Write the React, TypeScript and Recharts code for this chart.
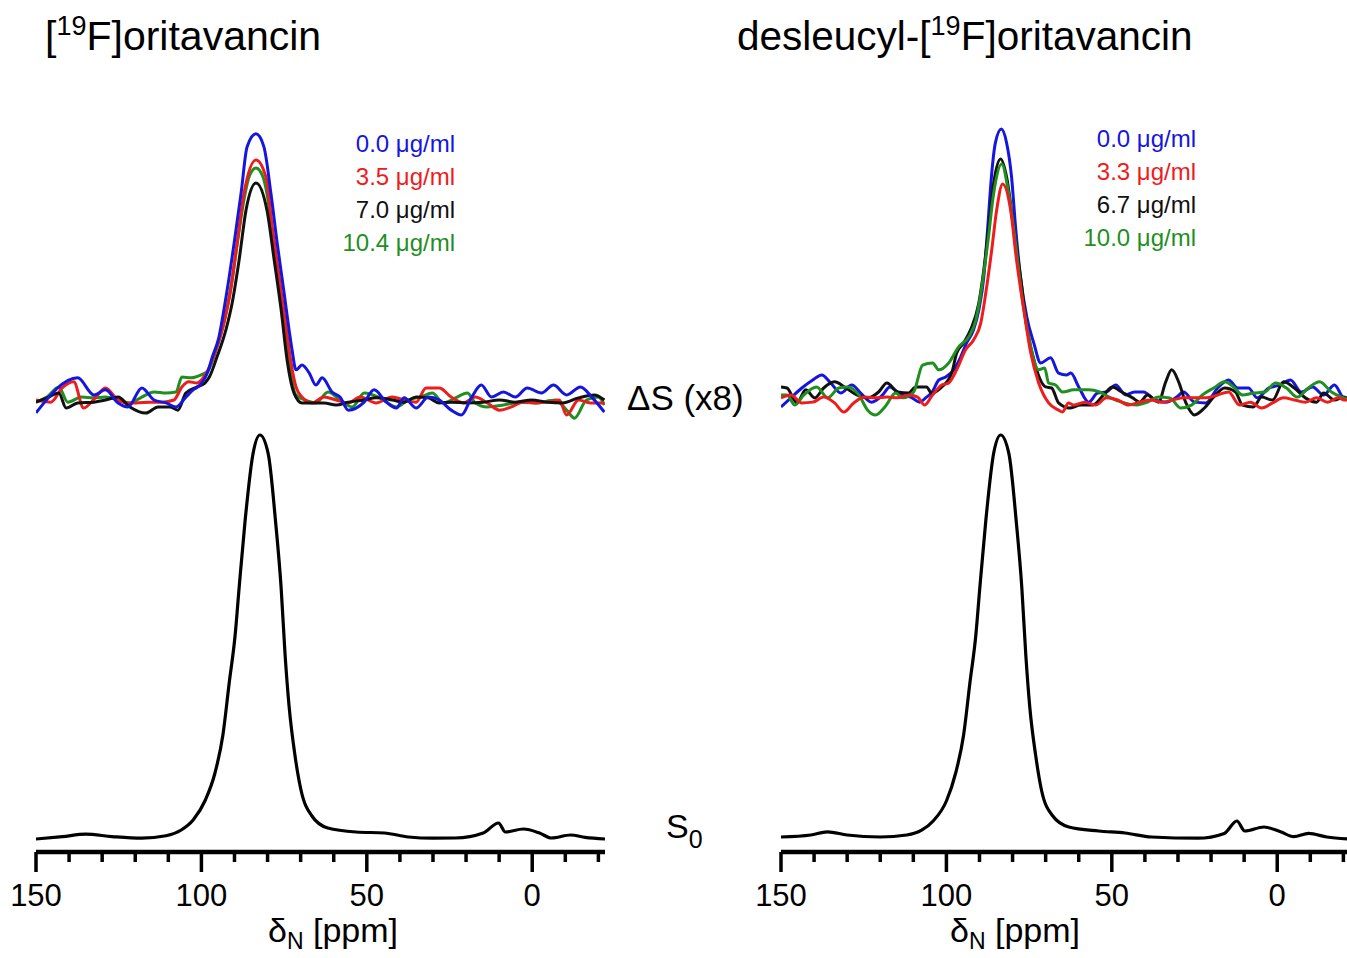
import React from "react";
import { LineChart, Line, XAxis, YAxis } from "recharts";

type Pt = [number, number];

const FONT = "'Liberation Sans', Arial, Helvetica, sans-serif";

// x axis (chemical shift, ppm), reversed
const ppmDomain: [number, number] = [-22, 150];
const ppmTicks = [150, 140, 130, 120, 110, 100, 90, 80, 70, 60, 50, 40, 30, 20, 10, 0, -10, -20];

const seriesColors = ["#1515e0", "#ee1c1c", "#111111", "#1f8f1f"];

// ---- [19F]oritavancin ----
const oritavancinConcs = ["0.0", "3.5", "7.0", "10.4"];

const oritavancinS0: Pt[] = [
  [150, -0.01], [142, -0.004], [135, 0.002], [127, -0.004], [118, -0.008], [110.7, -0.002],
  [106.1, 0.0125], [102.5, 0.0375], [98.8, 0.0875], [95.9, 0.155], [93.5, 0.25], [91.6, 0.38],
  [89.8, 0.5], [88.6, 0.618], [86.8, 0.785], [84.4, 0.953], [82.3, 1.0], [79.8, 0.953],
  [77.6, 0.785], [75.9, 0.618], [74.7, 0.45], [73.5, 0.322], [71.7, 0.198], [69.9, 0.1125],
  [66.6, 0.0475], [61.8, 0.0175], [53.2, 0.0075], [44.7, 0.005], [37.4, -0.005], [30, -0.008],
  [23.2, -0.0075], [14.8, 0.005], [10.2, 0.03], [8.1, 0.0075], [2.7, 0.015], [-2.2, 0.005],
  [-5.8, -0.0075], [-11.6, 0.0], [-16, -0.006], [-22, -0.01],
];

const oritavancin0_0: Pt[] = [
  [150, -4.8], [137.4, 8.3], [132.5, 1.9], [129.0, 3.8], [125.2, -1.1], [122.2, -2.6], [118.0, 4.5],
  [114.3, 0], [110.7, -1.1], [107.7, -2.6], [104.7, 1.1], [102.5, 3.8], [100.4, 5.6], [98.2, 10.1],
  [96.7, 16.1], [94.7, 23.6], [93.2, 33.8], [91.6, 46.1], [90.1, 58.9], [88.0, 77.6], [86.2, 94.9],
  [83.5, 99.8], [81.1, 94.9], [79.0, 77.6], [77.1, 58.9], [75.0, 40.1], [73.5, 26.3], [72.6, 18.8],
  [71.4, 11.3], [69.6, 13.1], [67.4, 10.1], [65.4, 5.6], [63.5, 8.3], [60.5, 3.0], [58.1, 1.1],
  [55.6, -3.8], [50.8, -0.8], [47.8, 3.8], [44.1, -0.8], [41.1, -3.0], [38.7, 0.8], [35.1, -3.0],
  [31.4, 1.1], [28.1, 0], [24.5, -3.8], [21.4, -5.6], [18.4, 0.8], [15.4, 5.6], [12.3, 1.1],
  [8.7, 3.0], [5.1, 1.1], [1.5, 4.5], [-2.8, 2.6], [-6.4, 5.6], [-10.4, 1.9], [-14.6, 4.9],
  [-18.2, 0.8], [-21.8, -4.5],
];

const oritavancin3_5: Pt[] = [
  [150, 0], [145.5, -0.8], [142.1, 4.5], [138.6, 6.8], [135.6, -3.0], [131.9, 1.1], [129.0, 4.5],
  [125.2, 0], [122.8, -1.1], [119.8, -1.1], [115.5, -0.8], [111.9, -0.8], [108.3, 0], [105.9, 4.9],
  [103.8, 6.8], [101.3, 6.4], [98.8, 9.5], [95.6, 18.8], [93.2, 28.9], [91.0, 42.4], [89.2, 58.9],
  [87.1, 77.6], [83.5, 90], [80.5, 83.6], [78.6, 64.9], [76.5, 46.1], [74.4, 27.4], [72.9, 13.9],
  [71.4, 4.9], [69.6, 1.1], [66.6, -1.1], [62.9, 1.1], [59.3, 0], [55.6, -1.1], [52.0, 1.1],
  [47.2, -1.1], [42.3, 1.1], [38.7, 0], [35.1, -0.8], [32.1, 4.5], [28.1, 4.5], [24.5, 1.1],
  [20.8, -1.1], [17.2, 1.1], [13.6, -1.1], [9.9, -3.8], [6.3, -2.6], [2.7, -0.8], [-1.0, -1.1],
  [-4.6, -0.8], [-8.2, 0], [-10.4, -5.6], [-14.0, 0], [-17.6, -1.1], [-21.8, -1.1],
];

const oritavancin7_0: Pt[] = [
  [150, -0.8], [146.7, 0.8], [143.1, 2.6], [140.9, -3.0], [137.4, -1.1], [132.5, -0.8], [129.0, 0],
  [125.2, 1.1], [121.6, -2.6], [116.8, -4.9], [113.1, -2.6], [109.5, -2.6], [107.1, -3.8],
  [104.7, 2.6], [101.3, 4.9], [98.9, 6.4], [97.6, 8.6], [95.3, 16.1], [92.6, 26.3], [90.7, 36.4],
  [88.6, 52.5], [86.5, 71.3], [83.5, 81.4], [80.2, 71.3], [78.0, 52.5], [75.9, 33.8], [74.1, 15],
  [72.0, 2.6], [69.6, -1.1], [66.6, -1.1], [62.9, -1.1], [59.3, -1.9], [55.6, -0.8], [50.8, 0],
  [47.2, 0.8], [42.3, 0], [38.7, -0.8], [35.1, 1.1], [31.4, 0.8], [28.1, -1.1], [24.5, -0.8],
  [19.6, -1.1], [14.8, -0.8], [9.9, 0], [5.1, -0.8], [0.2, 0], [-4.6, -0.8], [-9.1, -1.1],
  [-14.0, 0.8], [-18.8, 1.9], [-21.8, 0],
];

const oritavancin10_4: Pt[] = [
  [150, -0.8], [146.7, 1.1], [143.1, 4.9], [140.4, -0.8], [136.2, 1.1], [132.5, 0.8], [129.0, 1.1],
  [125.2, 0], [121.6, -1.1], [118.0, 1.1], [114.3, 3.0], [110.7, 2.6], [107.7, 3.0], [105.9, 8.6],
  [103.1, 8.3], [100.1, 9.4], [98, 11], [95.5, 19], [93, 30], [91, 43], [89, 60], [87, 76],
  [85.5, 84], [83.5, 87], [81.5, 84], [80, 76], [78.5, 62], [76.5, 44], [74.5, 25], [73, 10],
  [71.5, 2], [68.7, 0], [65.4, -1.1], [61.7, 3.0], [58.1, 0], [54.4, -2.6], [50.8, 2.6], [46.0, 0.8],
  [41.1, -2.6], [37.5, 0], [33.8, 1.1], [30.2, 2.6], [26.9, -1.1], [23.2, 0.8], [19.6, 2.6],
  [17.2, -1.1], [13.6, -2.6], [8.7, -1.9], [3.9, -0.8], [-1.0, -1.1], [-7.0, 0], [-10.4, -3.8],
  [-12.8, -6.8], [-16.4, 0], [-20.0, 1.1], [-21.8, -1.9],
];

// ---- desleucyl-[19F]oritavancin ----
const desleucylConcs = ["0.0", "3.3", "6.7", "10.0"];

const desleucylS0: Pt[] = [
  [150, -0.005], [141, 0.0], [136, 0.008], [130, 0.0], [120, -0.005], [112, 0.0], [107.5, 0.012],
  [104, 0.035], [100, 0.085], [97.2, 0.155], [94.8, 0.25], [92.9, 0.38], [91.1, 0.5], [89.9, 0.618],
  [88.1, 0.785], [85.7, 0.955], [83.6, 1.0], [81.1, 0.953], [78.9, 0.785], [77.2, 0.618], [76, 0.45],
  [74.8, 0.32], [73, 0.198], [71.2, 0.11], [67.9, 0.048], [63, 0.02], [54, 0.01], [46, 0.005],
  [38, -0.005], [24, -0.008], [16, 0.004], [12.2, 0.035], [9.8, 0.01], [4, 0.02], [-1, 0.008],
  [-5, -0.004], [-9.5, 0.004], [-15, -0.005], [-22, -0.01],
];

const desleucyl0_0: Pt[] = [
  [150, -2.6], [147.0, 0.8], [143.7, 4.5], [140.4, 7.5], [137.7, 9.4], [135.0, 6.4], [131.9, 2.6],
  [128.6, 5.6], [125.9, 2.6], [122.6, -0.8], [119.3, 1.9], [117.1, 4.9], [113.8, 1.9], [110.8, 1.1],
  [108.1, -0.8], [106.0, 1.1], [104.5, 2.6], [102.3, 7.5], [100.2, 8.6], [97.8, 11.3], [95.7, 16.1],
  [93.9, 21.4], [91.8, 26.3], [90.2, 33.8], [88.7, 46.1], [87.5, 64.9], [86.4, 83.6], [85.2, 96.4],
  [83.4, 101.6], [81.8, 96.4], [80.3, 83.6], [79.1, 64.9], [77.6, 46.1], [75.7, 31.1], [73.6, 21.4],
  [71.5, 13.9], [68.5, 15.8], [66.1, 10.1], [63.7, 9.4], [62.4, 10.1], [60.0, 4.9], [57.0, -0.8],
  [54.3, 2.6], [51.6, 3.0], [48.8, 5.6], [45.8, 1.9], [43.1, 3.0], [40.4, 3.0], [37.0, 0],
  [33.7, -0.8], [30.4, 1.1], [28.3, 3.0], [25.0, -0.8], [21.6, -1.1], [18.0, 4.5], [14.7, 7.5],
  [12.0, 4.5], [8.7, 4.5], [6.0, 0.8], [2.6, 4.5], [-0.7, 5.6], [-4.0, 7.5], [-7.3, 3.0],
  [-10.7, 4.9], [-14.0, 1.9], [-17.3, 5.6], [-20.0, 0.8], [-22, 0],
];

const desleucyl3_3: Pt[] = [
  [150, 0.8], [147.0, 1.9], [143.7, -1.1], [140.4, -0.8], [137.1, 1.1], [133.8, -1.1], [131.0, -4.5],
  [128.0, -1.1], [124.7, 1.1], [121.4, 0.8], [118.0, 1.1], [114.7, 0.8], [111.4, 1.9], [108.7, 1.1],
  [106.6, -1.9], [104.2, 1.9], [101.4, 5.6], [99.3, 6.4], [96.9, 11.3], [94.2, 18.8], [91.8, 22.5],
  [89.6, 28.9], [88.1, 40.1], [86.3, 56.3], [84.8, 71.3], [83.0, 81], [80.6, 71.3], [78.8, 52.5],
  [76.6, 33.8], [74.5, 17.6], [72.1, 6.4], [69.1, -1.1], [66.1, -3.8], [64.9, -4.5], [63.1, -1.1],
  [61.5, -1.9], [58.2, -0.8], [54.9, -1.9], [51.6, 0.8], [48.2, 0], [44.9, -1.9], [41.6, -0.8],
  [38.3, 0], [34.9, -0.8], [31.6, 0], [28.3, 0.8], [25.0, 0.8], [21.6, 0.8], [18.0, 1.9], [14.7, 3.0],
  [11.4, -1.9], [8.1, -0.8], [4.7, -3.0], [1.4, -1.1], [-1.9, 0.8], [-5.2, 0], [-8.5, -0.8],
  [-11.9, 0.8], [-15.2, -0.8], [-18.5, 0.8], [-20.3, 0], [-22, 0],
];

const desleucyl6_7: Pt[] = [
  [150, 4.9], [148.2, 4.5], [145.2, -1.1], [142.5, 3.8], [139.8, 0.8], [137.1, 4.5], [133.8, 6.8],
  [130.4, 4.5], [127.1, 1.9], [123.8, 0.8], [120.5, 3.0], [118.0, 6.4], [114.7, 3.0], [111.4, 2.6],
  [109.3, 4.9], [106.0, 4.9], [104.5, 2.6], [101.4, 4.9], [98.4, 10.1], [96.9, 17.6], [94.8, 21.4],
  [92.7, 26.3], [90.2, 36.4], [88.7, 48.8], [87.2, 64.9], [85.7, 81.4], [83.6, 90.4], [81.8, 83.6],
  [79.7, 64.9], [77.6, 46.1], [75.7, 27.4], [73.0, 12.4], [70.0, 4.9], [68.2, 4.5], [66.1, -1.1],
  [62.8, -3.0], [59.4, -1.9], [55.8, -1.9], [52.5, 1.9], [49.8, 4.9], [47.0, 3.0], [43.7, 0.8],
  [41.6, -0.8], [39.2, 1.9], [35.9, -0.8], [33.7, 6.8], [31.9, 11.3], [29.8, 6.8], [27.7, -0.8],
  [25.0, -5.6], [22.0, -3.0], [19.2, 1.1], [15.9, 4.5], [12.6, 3.0], [10.5, -1.9], [7.2, -2.6],
  [4.7, 1.1], [1.4, 0], [-1.9, 6.8], [-5.2, 4.5], [-8.5, 0.8], [-11.9, -0.8], [-14.0, 2.6],
  [-17.3, 0], [-20.0, 1.1], [-22, 0],
];

const desleucyl10_0: Pt[] = [
  [150, 1.9], [148.2, 1.9], [145.8, -1.9], [143.1, 1.9], [139.2, 4.9], [135.9, 0.8], [132.5, 4.5],
  [129.8, 4.9], [126.5, 1.9], [123.8, -3.8], [121.4, -5.6], [118.6, -2.6], [115.3, 2.6], [113.2, 0.8],
  [109.9, 3.0], [107.2, 13.1], [104.2, 13.9], [102.3, 11.3], [99.3, 13.9], [96.3, 19.9], [93.3, 23.6],
  [91.1, 30], [89.3, 42.4], [87.5, 58.9], [85.7, 77.6], [83.3, 88.5], [81.2, 77.6], [79.1, 58.9],
  [77.3, 40.1], [75.1, 23.6], [72.1, 11.3], [70.3, 12.0], [69.1, 6.4], [67.0, 5.6], [64.9, 3.0],
  [61.5, 3.8], [57.0, 3.8], [53.7, 3.0], [50.4, 0.8], [47.0, -0.8], [42.5, -1.9], [39.2, -0.8],
  [35.9, 1.1], [32.5, 0.8], [29.2, -3.0], [25.9, -1.9], [22.6, 1.9], [19.2, 4.5], [15.9, 6.8],
  [13.2, 4.9], [10.5, 1.9], [7.2, 2.6], [3.8, 3.0], [0.5, 6.4], [-2.8, 4.5], [-6.1, 1.1],
  [-9.4, 4.5], [-12.8, 6.8], [-16.4, 3.0], [-19.4, 1.1], [-22, 0],
];

const toRows = (pts: Pt[]) => pts.map(([ppm, v]) => ({ ppm, v }));

function PpmTick(props: any) {
  const { x, y, payload } = props;
  const major = payload.value % 50 === 0;
  return (
    <g>
      <line x1={x} x2={x} y1={y} y2={y + (major ? 20 : 10)} stroke="#000" strokeWidth={3.5} />
      {major && (
        <text x={x} y={y + 54} textAnchor="middle" fontSize={31} fontFamily={FONT} fill="#000">
          {payload.value}
        </text>
      )}
    </g>
  );
}

type PanelProps = {
  left: number;
  s0: Pt[];
  diffs: Pt[][];
  order: number[];
};

function Panel({ left, s0, diffs, order }: PanelProps) {
  return (
    <div style={{ position: "absolute", left, top: 0 }}>
      <LineChart width={615} height={958} margin={{ top: 100, right: 10, bottom: 0, left: 36 }}>
        <XAxis
          type="number"
          dataKey="ppm"
          domain={ppmDomain}
          reversed
          allowDataOverflow
          ticks={ppmTicks}
          interval={0}
          tick={<PpmTick />}
          tickLine={false}
          tickSize={0}
          tickMargin={0}
          height={106}
          axisLine={{ stroke: "#000", strokeWidth: 4.5 }}
        />
        <YAxis yAxisId="ds" hide type="number" domain={[-169.5, 112.5]} allowDataOverflow />
        <YAxis yAxisId="s0" hide type="number" domain={[-0.0425, 1.8375]} allowDataOverflow />
        {order.map((i) => (
          <Line
            key={i}
            yAxisId="ds"
            data={toRows(diffs[i])}
            dataKey="v"
            type="monotone"
            stroke={seriesColors[i]}
            strokeWidth={3}
            dot={false}
            activeDot={false}
            isAnimationActive={false}
          />
        ))}
        <Line
          yAxisId="s0"
          data={toRows(s0)}
          dataKey="v"
          type="monotone"
          stroke="#000"
          strokeWidth={3.2}
          dot={false}
          activeDot={false}
          isAnimationActive={false}
        />
      </LineChart>
    </div>
  );
}

function ConcLegend({ x, y0, concs }: { x: number; y0: number; concs: string[] }) {
  return (
    <>
      {concs.map((c, i) => (
        <text key={c} x={x} y={y0 + i * 33} textAnchor="end" fontSize={24} fill={seriesColors[i]}>
          {c} μg/ml
        </text>
      ))}
    </>
  );
}

function AxisTitle({ x }: { x: number }) {
  return (
    <text x={x} y={942} fontSize={34}>
      δ<tspan dy={7} fontSize={23}>N</tspan>
      <tspan dy={-7}> [ppm]</tspan>
    </text>
  );
}

export default function App() {
  return (
    <div
      style={{
        position: "fixed",
        left: 0,
        top: 0,
        width: 1347,
        height: 958,
        overflow: "hidden",
        background: "#fff",
      }}
    >
      <Panel
        left={0}
        s0={oritavancinS0}
        diffs={[oritavancin0_0, oritavancin3_5, oritavancin7_0, oritavancin10_4]}
        order={[3, 1, 2, 0]}
      />
      <Panel
        left={745}
        s0={desleucylS0}
        diffs={[desleucyl0_0, desleucyl3_3, desleucyl6_7, desleucyl10_0]}
        order={[0, 2, 3, 1]}
      />
      <svg
        width={1347}
        height={958}
        style={{ position: "absolute", left: 0, top: 0, pointerEvents: "none" }}
        fontFamily={FONT}
        fill="#000"
      >
        <text x={45} y={50} fontSize={41}>
          [<tspan dy={-15} fontSize={27}>19</tspan>
          <tspan dy={15}>F]oritavancin</tspan>
        </text>
        <text x={737} y={50} fontSize={40.5}>
          desleucyl-[<tspan dy={-15} fontSize={27}>19</tspan>
          <tspan dy={15}>F]oritavancin</tspan>
        </text>
        <ConcLegend x={455} y0={152} concs={oritavancinConcs} />
        <ConcLegend x={1196} y0={147} concs={desleucylConcs} />
        <text x={627} y={410} fontSize={35}>ΔS (x8)</text>
        <text x={666} y={838} fontSize={34}>
          S<tspan dy={10} fontSize={25}>0</tspan>
        </text>
        <AxisTitle x={268} />
        <AxisTitle x={950} />
      </svg>
    </div>
  );
}
